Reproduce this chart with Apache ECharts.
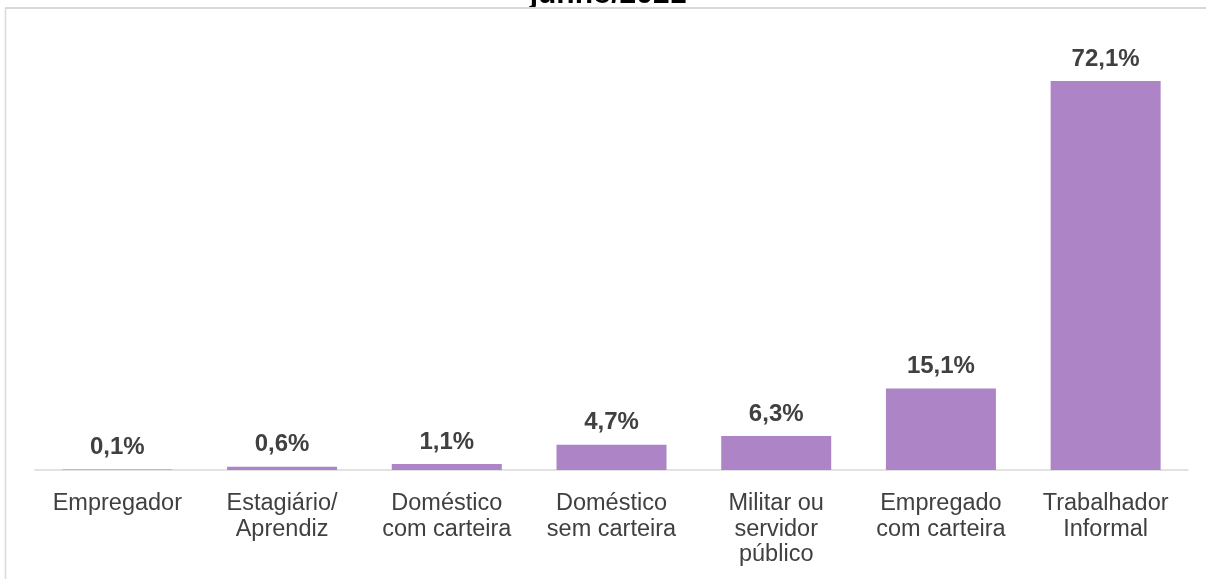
<!DOCTYPE html>
<html>
<head>
<meta charset="utf-8">
<script src="https://cdn.jsdelivr.net/npm/echarts@6/dist/echarts.min.js"></script>
<style>
  html, body { margin: 0; padding: 0; background: #fff; }
  #chart { width: 1206px; height: 579px; }
</style>
</head>
<body>
<div id="chart"></div>
<script>
// Ocupação por posição (%), junho/2021
const categories = [
  'Empregador',
  'Estagiário/\nAprendiz',
  'Doméstico\ncom carteira',
  'Doméstico\nsem carteira',
  'Militar ou\nservidor\npúblico',
  'Empregado\ncom carteira',
  'Trabalhador\nInformal'
];
const shares = [0.1, 0.6, 1.1, 4.7, 6.3, 15.1, 72.1];
const titleText = 'junho/2021';

const FONT = '"Liberation Sans", Arial, sans-serif';
const chart = echarts.init(document.getElementById('chart'), null, { renderer: 'canvas' });

chart.setOption({
  backgroundColor: '#ffffff',
  animation: false,
  graphic: [
    {
      type: 'text',
      x: 608,
      y: 10,
      style: {
        text: titleText,
        font: 'bold 30px ' + FONT,
        fill: '#000000',
        align: 'center',
        verticalAlign: 'bottom'
      },
      z: 1
    },
    {
      type: 'line',
      shape: { x1: 5, y1: 8, x2: 1206, y2: 8 },
      style: { stroke: '#d9d9d9', lineWidth: 2 },
      z: 3
    },
    {
      type: 'line',
      shape: { x1: 5.5, y1: 8, x2: 5.5, y2: 579 },
      style: { stroke: '#d9d9d9', lineWidth: 1.5 },
      z: 3
    }
  ],
  grid: { left: 35, right: 18, top: 38.4, bottom: 109, containLabel: false },
  xAxis: {
    type: 'category',
    data: categories,
    axisLine: { show: true, lineStyle: { color: '#d9d9d9', width: 1.5 } },
    axisTick: { show: false },
    axisLabel: {
      color: '#404040',
      fontFamily: FONT,
      fontSize: 23.5,
      lineHeight: 25.5,
      margin: 21,
      interval: 0
    }
  },
  yAxis: {
    type: 'value',
    min: 0,
    max: 80,
    show: false,
    splitLine: { show: false }
  },
  series: [{
    type: 'bar',
    data: shares,
    barWidth: 110,
    itemStyle: { color: '#ad84c6' },
    label: {
      show: true,
      position: 'top',
      distance: 10,
      color: '#404040',
      fontFamily: FONT,
      fontWeight: 'bold',
      fontSize: 24,
      formatter: p => p.value.toFixed(1).replace('.', ',') + '%'
    }
  }]
});
</script>
</body>
</html>
